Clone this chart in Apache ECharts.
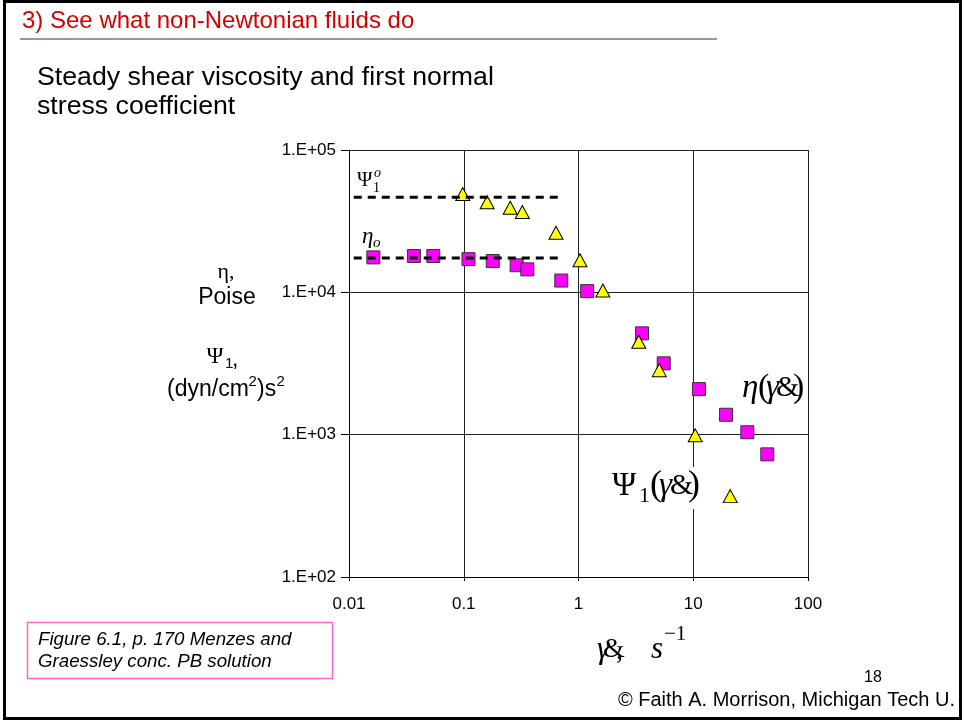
<!DOCTYPE html>
<html>
<head>
<meta charset="utf-8">
<script src="https://cdn.jsdelivr.net/npm/echarts@6/dist/echarts.min.js"></script>
<style>
  html, body { margin: 0; padding: 0; background: #fff; }
  #chart { width: 964px; height: 721px; }
</style>
</head>
<body>
<div id="chart"></div>
<script>
// ---- data ----
const shearRateEta = [0.0163, 0.0368, 0.0543, 0.110, 0.179, 0.289, 0.358, 0.708, 1.19, 3.58, 5.53, 11.2, 19.3, 29.6, 44.2];
const eta          = [17600, 18000, 18000, 17100, 16600, 15500, 14500, 12100, 10200, 5150, 3170, 2090, 1380, 1040, 727];
const shearRatePsi = [0.098, 0.160, 0.254, 0.324, 0.637, 1.03, 1.63, 3.35, 5.06, 10.4, 21.0];
const psi1         = [49100, 42900, 39300, 36700, 26200, 16800, 10300, 4500, 2840, 989, 370];
const plateauRange = [0.011, 0.69];
const eta0 = 17400;
const psi10 = 46500;
const xTicks = [0.01, 0.1, 1, 10, 100];
const yTicks = ['1.E+02', '1.E+03', '1.E+04', '1.E+05'];

const SANS = '"Liberation Sans", Arial, sans-serif';
const SERIF = '"Liberation Serif", "Times New Roman", serif';

function txt(x, y, text, size, opts) {
  opts = opts || {};
  return {
    type: 'text', x: x, y: y, z: opts.z || 100,
    style: {
      text: text, fontSize: size, fontFamily: opts.family || SANS,
      fontStyle: opts.style || 'normal', fill: opts.color || '#000',
      align: opts.align || 'left', verticalAlign: opts.va || 'middle'
    }
  };
}

const chart = echarts.init(document.getElementById('chart'));
const option = {
  animation: false,
  backgroundColor: '#fff',
  grid: { left: 349, right: 156, top: 150, bottom: 144, containLabel: false },
  xAxis: {
    type: 'log', logBase: 10, min: 0.01, max: 100,
    axisLine: { show: true, onZero: false, lineStyle: { color: '#000', width: 1 } },
    axisTick: { show: true, length: 4, lineStyle: { color: '#000' } },
    axisLabel: {
      color: '#000', fontSize: 17, fontFamily: SANS, margin: 19,
      formatter: function (v) { const i = xTicks.findIndex(t => Math.abs(Math.log10(t) - Math.log10(v)) < 1e-6); return i >= 0 ? String(xTicks[i]) : ''; }
    },
    splitLine: { show: true, lineStyle: { color: '#222', width: 1 } },
    minorTick: { show: false }, minorSplitLine: { show: false }
  },
  yAxis: {
    type: 'log', logBase: 10, min: 100, max: 100000,
    axisLine: { show: true, onZero: false, lineStyle: { color: '#000', width: 1 } },
    axisTick: { show: true, length: 8, lineStyle: { color: '#000' } },
    axisLabel: {
      color: '#000', fontSize: 17, fontFamily: SANS, margin: 13,
      formatter: function (v) { const e = Math.round(Math.log10(v)); return yTicks[e - 2] || ''; }
    },
    splitLine: { show: true, lineStyle: { color: '#222', width: 1 } },
    minorTick: { show: false }, minorSplitLine: { show: false }
  },
  series: [
    {
      type: 'scatter', name: 'eta', z: 3,
      symbol: 'rect', symbolSize: 13,
      itemStyle: { color: '#FF00FF', borderColor: '#333', borderWidth: 1, opacity: 1 },
      data: shearRateEta.map((x, i) => [x, eta[i]])
    },
    {
      type: 'scatter', name: 'psi1', z: 4,
      symbol: 'triangle', symbolSize: [14, 13],
      itemStyle: { color: '#FFFF00', borderColor: '#000', borderWidth: 1, opacity: 1 },
      data: shearRatePsi.map((x, i) => [x, psi1[i]])
    },
    {
      type: 'line', name: 'psi10', z: 5, symbol: 'none', silent: true,
      lineStyle: { color: '#000', width: 3, type: [8, 6] },
      data: plateauRange.map(x => [x, psi10])
    },
    {
      type: 'line', name: 'eta0', z: 5, symbol: 'none', silent: true,
      lineStyle: { color: '#000', width: 3, type: [8, 6] },
      data: plateauRange.map(x => [x, eta0])
    }
  ],
  graphic: [
    // slide frame
    { type: 'rect', z: 100, shape: { x: 4.5, y: 1.5, width: 956, height: 717 }, style: { fill: 'none', stroke: '#000', lineWidth: 3 } },
    // header
    txt(22, 21, '3) See what non-Newtonian fluids do', 24, { color: '#D40000' }),
    { type: 'line', z: 100, shape: { x1: 20, y1: 39, x2: 717, y2: 39 }, style: { stroke: '#999', lineWidth: 2 } },
    txt(37, 78, 'Steady shear viscosity and first normal', 26.7),
    txt(37, 107, 'stress coefficient', 26.7),
    // y-axis titles
    txt(226, 272, 'η,', 22, { align: 'center', family: SERIF }),
    txt(227, 298, 'Poise', 23, { align: 'center' }),
    txt(215, 357, 'Ψ', 23, { align: 'center', family: SERIF }),
    txt(225, 364, '1', 15, { align: 'left' }),
    txt(232, 360, ',', 23, { align: 'left' }),
    txt(167, 390, '(dyn/cm', 23, {}),
    txt(248.5, 382, '2', 15, {}),
    txt(257, 390, ')s', 23, {}),
    txt(276.5, 382, '2', 15, {}),
    // plateau labels
    txt(357, 180, 'Ψ', 21, { family: SERIF }),
    txt(374, 173, 'o', 14, { family: SERIF, style: 'italic' }),
    txt(373, 188, '1', 14, { family: SERIF }),
    txt(362, 237, 'η', 23, { family: SERIF, style: 'italic' }),
    txt(373, 243, 'o', 15, { family: SERIF, style: 'italic' }),
    // eta(gamma-dot) label
    txt(742, 388, 'η', 33, { family: SERIF, style: 'italic' }),
    txt(758, 388, '(', 34, { family: SERIF }),
    txt(766, 388, 'γ', 33, { family: SERIF, style: 'italic' }),
    txt(776, 388, '&', 30, { family: SERIF }),
    txt(793, 388, ')', 34, { family: SERIF }),
    // psi1(gamma-dot) label with white background
    { type: 'rect', z: 90, shape: { x: 610, y: 467, width: 95, height: 42 }, style: { fill: '#fff' } },
    txt(612, 486, 'Ψ', 33, { family: SERIF }),
    txt(639, 496, '1', 22, { family: SERIF }),
    txt(650, 486, '(', 36, { family: SERIF }),
    txt(659, 486, 'γ', 33, { family: SERIF, style: 'italic' }),
    txt(670, 486, '&', 30, { family: SERIF }),
    txt(688, 486, ')', 36, { family: SERIF }),
    // x-axis title
    txt(597, 650, 'γ', 31, { family: SERIF, style: 'italic' }),
    txt(603, 650, '&', 28, { family: SERIF }),
    txt(616, 652, ',', 28, { family: SERIF }),
    txt(651, 650, 's', 31, { family: SERIF, style: 'italic' }),
    txt(664, 634, '−1', 21, { family: SERIF }),
    // caption box
    { type: 'rect', z: 100, shape: { x: 27.5, y: 622.5, width: 305, height: 56 }, style: { fill: 'none', stroke: '#FF66CC', lineWidth: 1.5 } },
    txt(38, 640, 'Figure 6.1, p. 170 Menzes and', 18.7, { style: 'italic' }),
    txt(38, 662, 'Graessley conc. PB solution', 18.7, { style: 'italic' }),
    // footer
    txt(873, 678, '18', 16, { align: 'center' }),
    txt(955, 700, '© Faith A. Morrison, Michigan Tech U.', 20, { align: 'right' })
  ]
};
chart.setOption(option);
</script>
</body>
</html>
